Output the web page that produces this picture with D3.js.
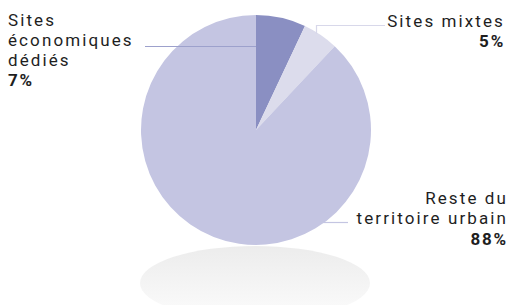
<!DOCTYPE html>
<html>
<head>
<meta charset="utf-8">
<script src="https://cdn.jsdelivr.net/npm/d3@7"></script>
<style>
  body { margin: 0; background: #fff; }
  text { font-family: Roboto, "DejaVu Sans", sans-serif; font-size: 17px; letter-spacing: 2.1px; fill: #1e1e1e; }
  .pct { font-weight: bold; letter-spacing: 1.8px; }
</style>
</head>
<body>
<div id="chart"></div>
<script>
// Data
const categories = ['Sites économiques dédiés', 'Sites mixtes', 'Reste du territoire urbain'];
const shares = [7, 5, 88];
const labelLines = [['Sites', 'économiques', 'dédiés'], ['Sites mixtes'], ['Reste du', 'territoire urbain']];
const colors = ['#8a8fc2', '#dcdcec', '#c4c5e2'];

const width = 509;
const height = 305;
const radius = 115;
const cx = 256, cy = 130;

const svg = d3.select('#chart')
  .append('svg')
  .attr('width', width)
  .attr('height', height);

// shadow under the pie
const defs = svg.append('defs');
const grad = defs.append('linearGradient')
  .attr('id', 'shadow')
  .attr('x1', 0).attr('y1', 0).attr('x2', 0).attr('y2', 1);
grad.append('stop').attr('offset', '0%').attr('stop-color', '#ececec');
grad.append('stop').attr('offset', '100%').attr('stop-color', '#fcfcfc');

svg.append('ellipse')
  .attr('cx', cx - 1)
  .attr('cy', 283)
  .attr('rx', 115)
  .attr('ry', 37)
  .attr('fill', 'url(#shadow)');

const g = svg.append('g')
  .attr('transform', `translate(${cx}, ${cy})`);

const pie = d3.pie().sort(null).value(d => d);
const arc = d3.arc().innerRadius(0).outerRadius(radius);
const arcs = pie(shares);

g.selectAll('path')
  .data(arcs)
  .enter()
  .append('path')
  .attr('d', arc)
  .attr('fill', (d, i) => colors[i]);

// leader lines
const lines = svg.append('g').attr('fill', 'none').attr('stroke-width', 1.2);

// left label: horizontal line into the dark slice
lines.append('line')
  .attr('x1', 145).attr('y1', 46.5)
  .attr('x2', cx).attr('y2', 46.5)
  .attr('stroke', '#9da1cc');

// top right label
lines.append('polyline')
  .attr('points', `316.5,34 316.5,25.5 385,25.5`)
  .attr('stroke', '#d8d8ea');

// bottom right label
lines.append('line')
  .attr('x1', 320).attr('y1', 222.5)
  .attr('x2', 348).attr('y2', 222.5)
  .attr('stroke', '#c4c5e2');

// labels
const labelPos = [
  { x: 8, y: 25.5, anchor: 'start', lh: 20.2 },
  { x: 505, y: 27, anchor: 'end', lh: 20 },
  { x: 508, y: 204, anchor: 'end', lh: 20.4 }
];

labelLines.forEach((rows, i) => {
  const p = labelPos[i];
  const t = svg.append('text')
    .attr('text-anchor', p.anchor)
    .attr('x', p.x)
    .attr('y', p.y);
  rows.forEach((r, j) => {
    t.append('tspan').attr('x', p.x).attr('y', p.y + j * p.lh).text(r);
  });
  t.append('tspan')
    .attr('class', 'pct')
    .attr('x', p.x)
    .attr('y', p.y + rows.length * p.lh)
    .text(shares[i] + '%');
  t.append('title').text(categories[i]);
});
</script>
</body>
</html>
